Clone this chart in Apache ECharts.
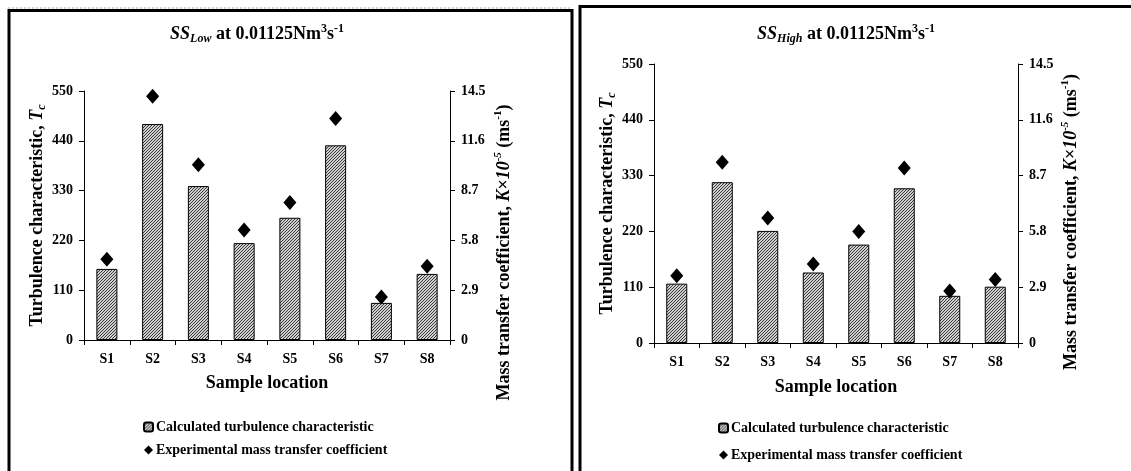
<!DOCTYPE html>
<html>
<head>
<meta charset="utf-8">
<script src="https://cdn.jsdelivr.net/npm/echarts@6/dist/echarts.min.js"></script>
<style>
html,body{margin:0;padding:0;background:#fff;}
#chart{width:1131px;height:471px;}
</style>
</head>
<body>
<div id="chart"></div>
<script>
// ---- data ----
const categories = ['S1','S2','S3','S4','S5','S6','S7','S8'];
const lowTc  = [157, 477, 340, 214, 270, 430, 82, 146];   // SS_Low turbulence characteristic
const lowK   = [4.7, 14.2, 10.2, 6.4, 8.0, 12.9, 2.5, 4.3]; // SS_Low K x10^-5
const highTc = [117, 317, 221, 139, 194, 305, 93, 111];   // SS_High turbulence characteristic
const highK  = [3.5, 9.4, 6.5, 4.1, 5.8, 9.1, 2.7, 3.3];  // SS_High K x10^-5
const tcTicks = {min:0, max:550, interval:110};
const kTicks  = {min:0, max:14.5, interval:2.9};
const barName = 'Calculated turbulence characteristic';
const dotName = 'Experimental mass transfer coefficient';

const FONT = '"Liberation Serif","Times New Roman",serif';

function hatch(){
  const c = document.createElement('canvas');
  c.width = 3; c.height = 3;
  const ctx = c.getContext('2d');
  ctx.fillStyle = '#cfcfcf'; ctx.fillRect(0,0,3,3);
  ctx.fillStyle = '#3a3a3a';
  for (let x=0;x<3;x++) for (let y=0;y<3;y++) if ((x+y)%3===0) ctx.fillRect(x,y,1,1);
  return c;
}
const pattern = {image: hatch(), repeat: 'repeat'};

const richBase = {
  n:  {fontFamily:FONT, fontWeight:'bold', fontSize:18, color:'#000', lineHeight:22},
  i:  {fontFamily:FONT, fontWeight:'bold', fontStyle:'italic', fontSize:18, color:'#000', lineHeight:22},
  sub:{fontFamily:FONT, fontWeight:'bold', fontStyle:'italic', fontSize:12, color:'#000', verticalAlign:'bottom', lineHeight:22},
  sup:{fontFamily:FONT, fontWeight:'bold', fontSize:11, color:'#000', verticalAlign:'top', lineHeight:22},
  supi:{fontFamily:FONT, fontWeight:'bold', fontStyle:'italic', fontSize:11, color:'#000', verticalAlign:'top', lineHeight:22}
};
const titleRich = {
  n:  {fontFamily:FONT, fontWeight:'bold', fontSize:18, color:'#000', lineHeight:22},
  i:  {fontFamily:FONT, fontWeight:'bold', fontStyle:'italic', fontSize:18, color:'#000', lineHeight:22},
  sub:{fontFamily:FONT, fontWeight:'bold', fontStyle:'italic', fontSize:12, color:'#000', verticalAlign:'bottom', lineHeight:22},
  sup:{fontFamily:FONT, fontWeight:'bold', fontSize:12, color:'#000', verticalAlign:'top', lineHeight:22}
};

const tcName = '{n|Turbulence characteristic, }{i|T}{sub|c}';
const kName  = '{n|Mass transfer coefficient, }{i|K}{n|×}{i|10}{supi|-5}{n| (ms}{sup|-1}{n|)}';

function xAxis(gi, gap){
  return {
    type:'category', gridIndex:gi, data:categories,
    axisLine:{lineStyle:{color:'#000', width:1}},
    axisTick:{show:true, length:5, inside:false, lineStyle:{color:'#000'}},
    axisLabel:{fontFamily:FONT, fontWeight:'bold', fontSize:14, color:'#000', margin:12},
    name:'Sample location', nameLocation:'middle', nameGap:gap,
    nameTextStyle:{fontFamily:FONT, fontWeight:'bold', fontSize:18, color:'#000'}
  };
}
function yLeft(gi, gap){
  return {
    type:'value', gridIndex:gi, position:'left', min:tcTicks.min, max:tcTicks.max, interval:tcTicks.interval,
    axisLine:{show:true, lineStyle:{color:'#000'}},
    axisTick:{show:true, length:5, lineStyle:{color:'#000'}},
    splitLine:{show:false},
    axisLabel:{fontFamily:FONT, fontWeight:'bold', fontSize:14, color:'#000', margin:11},
    name:tcName, nameLocation:'middle', nameRotate:90, nameGap:gap,
    nameTextStyle:{rich:richBase}
  };
}
function yRight(gi, gap, shift){
  return {
    type:'value', gridIndex:gi, position:'right', min:kTicks.min, max:kTicks.max, interval:kTicks.interval,
    axisLine:{show:true, lineStyle:{color:'#000'}},
    axisTick:{show:true, length:5, lineStyle:{color:'#000'}},
    splitLine:{show:false},
    axisLabel:{fontFamily:FONT, fontWeight:'bold', fontSize:14, color:'#000', margin:11,
      formatter: v => v === 0 ? '0' : v.toFixed(1)},
    name:kName, nameLocation:'middle', nameRotate:90, nameGap:gap,
    nameTextStyle:{rich:richBase, padding:[0, shift, 0, 0]}
  };
}

const legendText = {fontFamily:FONT, fontWeight:'bold', fontSize:14, color:'#000', lineHeight:16, padding:[0,0,0,-2]};

const chart = echarts.init(document.getElementById('chart'), null, {renderer:'canvas'});
chart.setOption({
  backgroundColor:'#fff',
  animation:false,
  title:[
    {text:'{i|SS}{sub|Low}{n| at 0.01125Nm}{sup|3}{n|s}{sup|-1}', left:252, top:18, textAlign:'center',
     textStyle:{rich:titleRich}},
    {text:'{i|SS}{sub|High}{n| at 0.01125Nm}{sup|3}{n|s}{sup|-1}', left:841, top:18, textAlign:'center',
     textStyle:{rich:titleRich}}
  ],
  grid:[
    {left:84, right:1131-450, top:91, height:249, containLabel:false},
    {left:654, right:1131-1018, top:64, height:279, containLabel:false}
  ],
  xAxis:[xAxis(0, 34), xAxis(1, 35)],
  yAxis:[yLeft(0, 34), yRight(0, 43, 74), yLeft(1, 36), yRight(1, 42, 37)],
  legend:[
    {orient:'vertical', left:143, top:419, padding:0, height:60, itemWidth:9, itemHeight:9, itemGap:7,
     data:[barName, dotName], textStyle:legendText},
    {orient:'vertical', left:718, top:420, padding:0, height:60, itemWidth:9, itemHeight:9, itemGap:11,
     data:[barName, dotName], textStyle:legendText}
  ],
  series:[
    {name:barName, type:'bar', xAxisIndex:0, yAxisIndex:0, data:lowTc, barWidth:21,
     itemStyle:{color:pattern, borderColor:'#000', borderWidth:1}},
    {name:dotName, type:'scatter', xAxisIndex:0, yAxisIndex:1, data:lowK, symbol:'diamond', symbolSize:[13,15],
     itemStyle:{color:'#000', opacity:1}},
    {name:barName, type:'bar', xAxisIndex:1, yAxisIndex:2, data:highTc, barWidth:21,
     itemStyle:{color:pattern, borderColor:'#000', borderWidth:1}},
    {name:dotName, type:'scatter', xAxisIndex:1, yAxisIndex:3, data:highK, symbol:'diamond', symbolSize:[13,15],
     itemStyle:{color:'#000', opacity:1}}
  ],
  graphic:[
    {type:'line', shape:{x1:8, y1:8, x2:572, y2:8}, style:{stroke:'#aaa', lineWidth:1, lineDash:[2,2]}},
    {type:'polyline', shape:{points:[[9,480],[9,10.5],[572,10.5],[572,480]]}, style:{stroke:'#000', lineWidth:3, fill:null}},
    {type:'polyline', shape:{points:[[580,480],[580,6.5],[1140,6.5]]}, style:{stroke:'#000', lineWidth:3, fill:null}}
  ]
});
</script>
</body>
</html>
